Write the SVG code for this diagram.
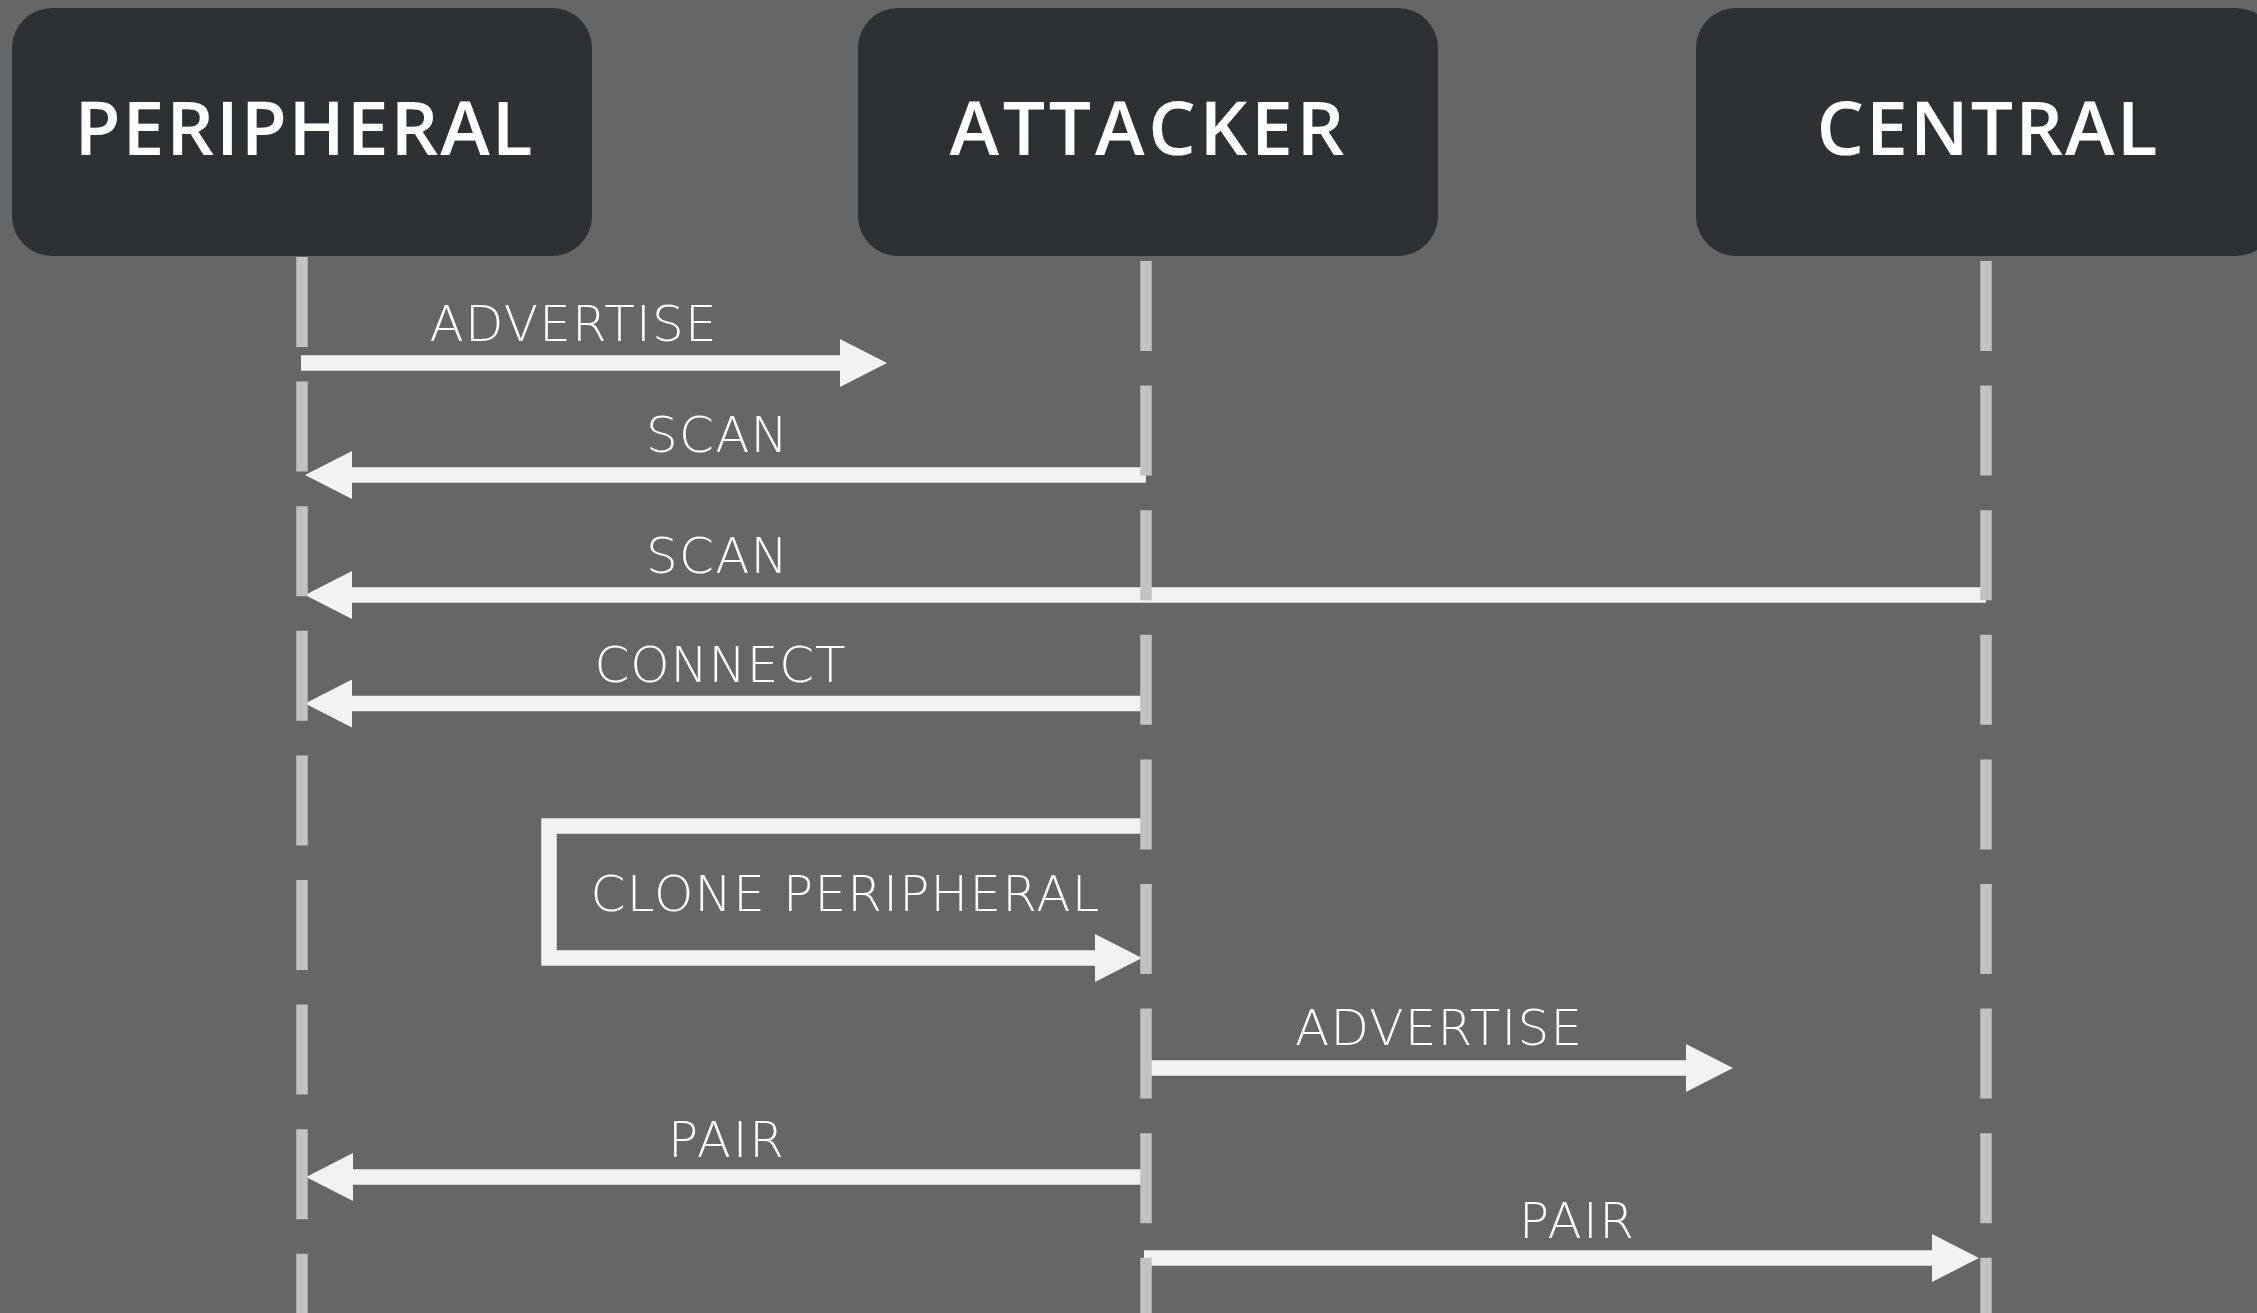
<svg xmlns="http://www.w3.org/2000/svg" width="2257" height="1313" viewBox="0 0 2257 1313">
  <style>
    .box { fill: #2e3134; }
    .title { font-family: "Open Sans", "Liberation Sans", sans-serif; font-weight: 600; font-size: 75px; fill: #ffffff; text-anchor: middle; }
    .label { font-family: "DejaVu Sans", "Open Sans", sans-serif; font-weight: 200; font-size: 50px; fill: #ffffff; text-anchor: middle; }
    .life { stroke: #c2c2c2; stroke-width: 11.5; stroke-dasharray: 90 34.6; fill: none; }
    .msg { stroke: #f2f2f2; stroke-width: 15.5; fill: none; stroke-linejoin: miter; }
  </style>
  <defs>
    <marker id="head" markerUnits="userSpaceOnUse" markerWidth="48" markerHeight="48" refX="0" refY="24" orient="auto" viewBox="0 0 48 48">
      <path d="M0,0 L47,24 L0,48 Z" fill="#f2f2f2"/>
    </marker>
  </defs>
  <rect x="0" y="0" width="2257" height="1313" fill="#666666"/>

  <g id="connectors">
    <g id="msg-advertise-1">
      <line class="msg" x1="301" y1="363" x2="840" y2="363" marker-end="url(#head)"/>
      <text class="label" x="573" y="341" textLength="287" lengthAdjust="spacing">ADVERTISE</text>
    </g>
    <g id="msg-scan-1">
      <line class="msg" x1="1146" y1="475" x2="352" y2="475" marker-end="url(#head)"/>
      <text class="label" x="717" y="452" textLength="142" lengthAdjust="spacing">SCAN</text>
    </g>
    <g id="msg-scan-2">
      <line class="msg" x1="1986" y1="595" x2="352" y2="595" marker-end="url(#head)"/>
      <text class="label" x="717" y="573" textLength="142" lengthAdjust="spacing">SCAN</text>
    </g>
    <g id="msg-connect">
      <line class="msg" x1="1146" y1="703.5" x2="352" y2="703.5" marker-end="url(#head)"/>
      <text class="label" x="720" y="682" textLength="251" lengthAdjust="spacing">CONNECT</text>
    </g>
    <g id="msg-clone">
      <path class="msg" d="M1146,826 H549 V958 H1095" marker-end="url(#head)"/>
      <text class="label" x="845" y="911" textLength="509" lengthAdjust="spacing">CLONE PERIPHERAL</text>
    </g>
    <g id="msg-advertise-2">
      <line class="msg" x1="1146" y1="1068" x2="1686" y2="1068" marker-end="url(#head)"/>
      <text class="label" x="1438.5" y="1045" textLength="287" lengthAdjust="spacing">ADVERTISE</text>
    </g>
    <g id="msg-pair-1">
      <line class="msg" x1="1146" y1="1177" x2="353" y2="1177" marker-end="url(#head)"/>
      <text class="label" x="726" y="1157" textLength="116" lengthAdjust="spacing">PAIR</text>
    </g>
    <g id="msg-pair-2">
      <line class="msg" x1="1144" y1="1258" x2="1932" y2="1258" marker-end="url(#head)"/>
      <text class="label" x="1576.5" y="1238" textLength="115" lengthAdjust="spacing">PAIR</text>
    </g>
  </g>

  <g id="node-peripheral">
    <rect class="box" x="12" y="8" width="580" height="248" rx="40" ry="40"/>
    <text class="title" x="303.5" y="155" textLength="458" lengthAdjust="spacing">PERIPHERAL</text>
    <line class="life" x1="302" y1="257" x2="302" y2="1313"/>
  </g>
  <g id="node-attacker">
    <rect class="box" x="858" y="8" width="580" height="248" rx="40" ry="40"/>
    <text class="title" x="1147" y="155" textLength="395" lengthAdjust="spacing">ATTACKER</text>
    <line class="life" x1="1146" y1="261" x2="1146" y2="1313"/>
  </g>
  <g id="node-central">
    <rect class="box" x="1696" y="8" width="580" height="248" rx="40" ry="40"/>
    <text class="title" x="1987" y="155" textLength="341" lengthAdjust="spacing">CENTRAL</text>
    <line class="life" x1="1986" y1="261" x2="1986" y2="1313"/>
  </g>
</svg>
